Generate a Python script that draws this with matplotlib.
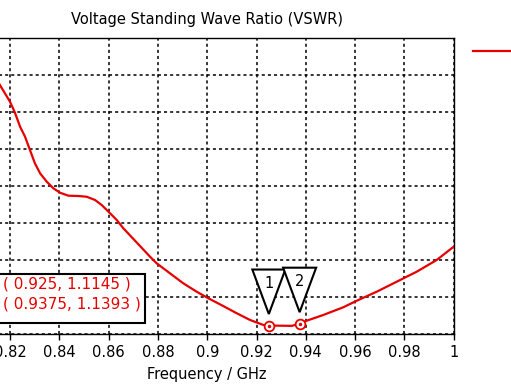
import numpy as np
import matplotlib
matplotlib.use("Agg")
import matplotlib.pyplot as plt
import matplotlib.transforms as mtransforms
from matplotlib.patches import Polygon, Rectangle

# VSWR curve (frequency in GHz)
freq = [0.812, 0.8159, 0.8200, 0.8220, 0.8241, 0.8261, 0.8281, 0.8301, 0.8322,
        0.8349, 0.8376, 0.8403, 0.8437, 0.8477, 0.8511, 0.8545, 0.8572,
        0.8606, 0.8633, 0.8660, 0.8713, 0.8768, 0.8795, 0.8849, 0.8903,
        0.8957, 0.9005, 0.9065, 0.9120, 0.9174, 0.9228, 0.925, 0.9343,
        0.9375, 0.9404, 0.9471, 0.9552, 0.9607, 0.9688, 0.9769, 0.9850,
        0.9931, 1.0]
vswr = [4.62, 4.365, 4.139, 3.991, 3.801, 3.666, 3.486, 3.307, 3.172,
        3.058, 2.969, 2.909, 2.869, 2.865, 2.855, 2.811, 2.743,
        2.631, 2.541, 2.428, 2.24, 2.045, 1.955, 1.820, 1.685,
        1.572, 1.482, 1.378, 1.280, 1.189, 1.122, 1.1145, 1.11,
        1.1393, 1.180, 1.257, 1.361, 1.450, 1.572, 1.707, 1.842,
        2.0, 2.180]

# markers
mark_f = [0.925, 0.9375]
mark_v = [1.1145, 1.1393]
mark_id = ["1", "2"]

xticks = [0.82, 0.84, 0.86, 0.88, 0.9, 0.92, 0.94, 0.96, 0.98, 1.0]
xtick_labels = ["0.82", "0.84", "0.86", "0.88", "0.9", "0.92", "0.94", "0.96", "0.98", "1"]
yticks = [1, 1.5, 2, 2.5, 3, 3.5, 4, 4.5, 5]

RED = "#e60000"
W, H = 511, 390

fig = plt.figure(figsize=(W / 100, H / 100), dpi=100)
# axes extends past the left edge, like the cropped reference
ax = fig.add_axes([-39.3 / W, 56 / H, 493 / W, 296 / H])

line, = ax.plot(freq, vswr, color=RED, lw=1.6, zorder=3)
ax.set_xlim(0.8, 1.0)
ax.set_ylim(1, 5)
ax.set_xticks(xticks)
ax.set_xticklabels(xtick_labels)
ax.set_yticks(yticks)
ax.tick_params(direction="out", length=4, width=1, labelsize=10.5, pad=4)
ax.tick_params(axis="y", labelleft=False)
ax.grid(True, color="black", lw=1.1, linestyle=(0, (2, 2)))
for s in ax.spines.values():
    s.set_linewidth(1.0)

ax.set_title("Voltage Standing Wave Ratio (VSWR)", fontsize=10.5, pad=10)
ax.set_xlabel("Frequency / GHz", fontsize=10.5, labelpad=5)

# marker circles
ax.plot(mark_f, mark_v, "o", ms=7, mfc="white", mec=RED, mew=1.3, zorder=4)
ax.plot(mark_f, mark_v, ".", ms=3, color=RED, zorder=5)

# inverted triangle flags above markers (offsets in pixels)
for f, v, lab in zip(mark_f, mark_v, mark_id):
    tr = fig.dpi_scale_trans + mtransforms.ScaledTranslation(f, v, ax.transData)
    tri = np.array([[-16.5, 56.0], [16.5, 56.0], [0.0, 11.5]]) / 100
    ax.add_patch(Polygon(tri, closed=True, transform=tr, facecolor="white",
                         edgecolor="black", lw=1.5, zorder=6, clip_on=False))
    ax.text(0, 0.42, lab, transform=tr, ha="center", va="center",
            fontsize=10.5, zorder=7)

# marker value box
fig.patches.append(Rectangle((-20 / W, (H - 323) / H), 165 / W, 49 / H,
                             transform=fig.transFigure, facecolor="white",
                             edgecolor="black", lw=1.5, zorder=8))
fig.text(3 / W, (H - 284) / H, f"( {mark_f[0]}, {mark_v[0]} )", color=RED,
         fontsize=11, va="center", ha="left", zorder=9)
fig.text(3 / W, (H - 304) / H, f"( {mark_f[1]}, {mark_v[1]} )", color=RED,
         fontsize=11, va="center", ha="left", zorder=9)

# legend handle, text falls outside the crop
fig.legend([line], [""], loc="center left", bbox_to_anchor=(473 / W, (H - 52) / H),
           frameon=False, handlelength=3, borderaxespad=0, borderpad=0)

fig.savefig("out.png", dpi=100)
